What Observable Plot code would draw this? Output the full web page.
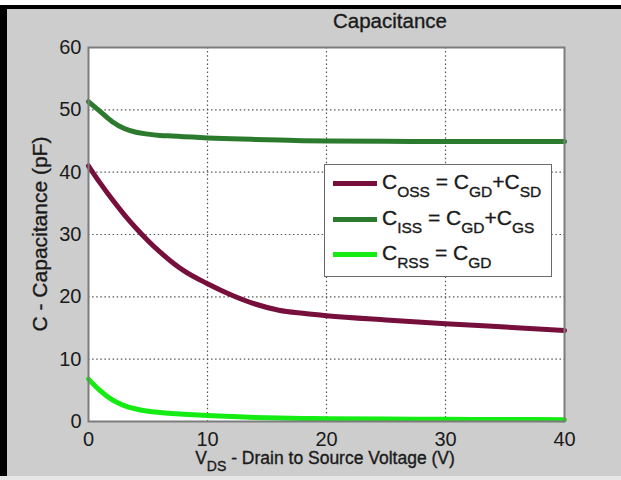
<!DOCTYPE html>
<html>
<head>
<meta charset="utf-8">
<script src="https://cdn.jsdelivr.net/npm/d3@7"></script>
<script src="https://cdn.jsdelivr.net/npm/@observablehq/plot@0.6"></script>
<style>
  html, body { margin: 0; padding: 0; background: #fff; }
  #root { position: relative; width: 621px; height: 480px; overflow: hidden; background: #e6e6e6;
          font-family: "Liberation Sans", Arial, Helvetica, sans-serif; color: #1a1a1a; }
  #topstrip { position: absolute; left: 0; top: 0; width: 621px; height: 5px; background: #fff; }
  #frame { position: absolute; left: 0; top: 5px; width: 621px; height: 471px; box-sizing: border-box;
           border-left: 7px solid #000; border-top: 4px solid #000; background: #cdcdcd; }
  #chart { position: absolute; left: 0; top: 0; }
  .heavy { -webkit-text-stroke: 0.35px #1a1a1a; }
  #title { position: absolute; left: 390px; top: 11px; transform: translateX(-50%); font-size: 20.5px; line-height: 20.5px; white-space: nowrap; }
  #xlabel { position: absolute; left: 325px; top: 450px; transform: translateX(-50%); font-size: 17.5px; line-height: 17.5px; white-space: nowrap; }
  #xlabel .sub { font-size: 14px; top: 7px; }
  #ylabel { position: absolute; left: 46px; top: 234px; font-size: 21px; line-height: 21px; white-space: nowrap;
            transform: rotate(-90deg); transform-origin: 0 0; }
  #ylabel span { display: inline-block; transform: translate(-50%, -17px); }
  .sub { font-size: 0.74em; position: relative; top: 0.42em; }
  #legend { position: absolute; left: 324px; top: 164px; width: 228px; height: 113px; box-sizing: border-box;
            border: 1px solid #6a6a6a; background: #fff; }
  .row { position: absolute; left: 0; width: 226px; height: 30px; }
  .sw { position: absolute; left: 8px; width: 44px; height: 5px; top: 10px; }
  .lt { position: absolute; left: 57px; top: 0; font-size: 21px; line-height: 21px; white-space: nowrap; }
  .lt .sub { font-size: 15.5px; top: 8px; }
</style>
</head>
<body>
<div id="root">
  <div id="topstrip"></div>
  <div id="frame"></div>
  <div id="chart"></div>
  <div id="title" class="heavy">Capacitance</div>
  <div id="xlabel" class="heavy">V<span class="sub">DS</span> - Drain to Source Voltage (V)</div>
  <div id="ylabel" class="heavy"><span>C - Capacitance (pF)</span></div>
  <div id="legend" class="heavy"></div>
</div>
<script>
// ---- data ----
const volts = [0, 1, 2, 3, 4, 5, 6, 7, 8, 10, 12, 14, 16, 18, 20, 25, 30, 35, 40];
const coss  = [41.0, 38.2, 35.6, 33.2, 31.0, 29.0, 27.2, 25.6, 24.2, 22.1, 20.3, 18.85, 17.85, 17.35, 16.98, 16.3, 15.7, 15.15, 14.6];
const ciss  = [51.3, 49.7, 48.1, 47.0, 46.4, 46.1, 45.9, 45.8, 45.7, 45.5, 45.35, 45.25, 45.15, 45.05, 45.0, 44.95, 44.9, 44.9, 44.9];
const crss  = [6.8, 4.9, 3.45, 2.55, 2.0, 1.65, 1.45, 1.3, 1.18, 0.97, 0.8, 0.66, 0.56, 0.5, 0.45, 0.4, 0.35, 0.32, 0.3];

const seriesNames  = ["Coss", "Ciss", "Crss"];
const seriesColors = ["#760f3c", "#2c7a2e", "#14ec14"];
const legendHTML = [
  'C<span class="sub">OSS</span> = C<span class="sub">GD</span>+C<span class="sub">SD</span>',
  'C<span class="sub">ISS</span> = C<span class="sub">GD</span>+C<span class="sub">GS</span>',
  'C<span class="sub">RSS</span> = C<span class="sub">GD</span>'
];

const xTicks = [0, 10, 20, 30, 40];
const yTicks = [0, 10, 20, 30, 40, 50, 60];
const xGrid = [10, 20, 30];
const yGrid = [10, 20, 30, 40, 50];

// ---- build table ----
const valuesBySeries = [coss, ciss, crss];
const rows = [];
seriesNames.forEach((name, i) => {
  volts.forEach((v, j) => rows.push({ series: name, v, c: valuesBySeries[i][j] }));
});

const gridStyle = { stroke: "#555", strokeOpacity: 1, strokeWidth: 1.2, strokeDasharray: "1.5,2.6" };
const tickText = { tickSize: 0, fontSize: 20, label: null, fill: "#1a1a1a", stroke: "#1a1a1a", strokeWidth: 0.35 };

const chart = Plot.plot({
  width: 621,
  height: 480,
  marginLeft: 88,
  marginRight: 57,
  marginTop: 47,
  marginBottom: 59,
  style: { background: "transparent", fontFamily: "'Liberation Sans', Arial, sans-serif", color: "#1a1a1a", overflow: "visible" },
  x: { domain: [0, 40] },
  y: { domain: [0, 60] },
  color: { domain: seriesNames, range: seriesColors },
  marks: [
    Plot.frame({ fill: "white", stroke: "none" }),
    Plot.gridX(xGrid, gridStyle),
    Plot.gridY(yGrid, gridStyle),
    Plot.line(rows, { x: "v", y: "c", z: "series", stroke: "series", strokeWidth: 5, curve: "monotone-x" }),
    Plot.frame({ stroke: "#7c7c7c", strokeWidth: 2 }),
    Plot.axisX(xTicks, { ...tickText, tickPadding: 10 }),
    Plot.axisY(yTicks, { ...tickText, tickPadding: 7 })
  ]
});
document.getElementById("chart").appendChild(chart);

// ---- legend ----
const leg = document.getElementById("legend");
const rowTops = [5.5, 41.5, 77];
seriesNames.forEach((name, i) => {
  const r = document.createElement("div");
  r.className = "row";
  r.style.top = rowTops[i] + "px";
  const sw = document.createElement("div");
  sw.className = "sw";
  sw.style.background = seriesColors[i];
  const t = document.createElement("div");
  t.className = "lt";
  t.innerHTML = legendHTML[i];
  r.appendChild(sw);
  r.appendChild(t);
  leg.appendChild(r);
});
</script>
</body>
</html>
